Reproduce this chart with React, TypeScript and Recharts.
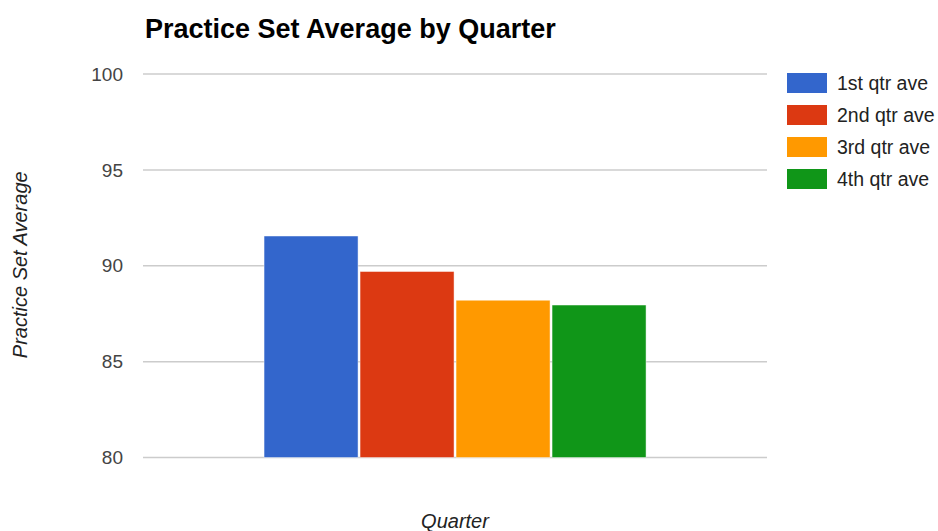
import React from 'react';
import { BarChart, Bar, XAxis, YAxis, CartesianGrid } from 'recharts';

const seriesNames = ['1st qtr ave', '2nd qtr ave', '3rd qtr ave', '4th qtr ave'];
const seriesKeys = ['q1', 'q2', 'q3', 'q4'];
const seriesValues = [91.55, 89.7, 88.2, 87.95];
const seriesColors = ['#3366cc', '#dc3912', '#ff9900', '#109618'];
const yTicks = [80, 85, 90, 95, 100];

const FONT = 'Arial, "Liberation Sans", Helvetica, sans-serif';

// one category row holding all four quarter averages
const chartData = [
  seriesKeys.reduce(
    (row, key, i) => ({ ...row, [key]: seriesValues[i] }),
    { name: 'Quarter' } as Record<string, any>
  ),
];

export default function App() {
  return (
    <div style={{ position: 'absolute', left: 0, top: 0, width: 938, height: 531, background: '#fff' }}>
      <BarChart
        width={938}
        height={531}
        data={chartData}
        margin={{ top: 74, right: 171, left: 0, bottom: 0 }}
        barGap={2}
        barCategoryGap="19.4%"
        style={{ fontFamily: FONT }}
      >
        <CartesianGrid vertical={false} stroke="#cccccc" strokeWidth={1.5} />
        <XAxis
          dataKey="name"
          tick={false}
          axisLine={false}
          tickLine={false}
          height={73.5}
          label={{
            content: ({ viewBox }: any) => (
              <text
                x={viewBox.x + viewBox.width / 2}
                y={viewBox.y + 70}
                textAnchor="middle"
                fontStyle="italic"
                fontSize={20}
                fill="#222"
                fontFamily={FONT}
              >
                Quarter
              </text>
            ),
          }}
        />
        <YAxis
          domain={[80, 100]}
          ticks={yTicks}
          width={143}
          axisLine={false}
          tickLine={false}
          tickSize={0}
          tickMargin={20}
          tick={{ fill: '#444', fontSize: 19, fontFamily: FONT }}
          label={{
            content: ({ viewBox }: any) => {
              const cx = 27;
              const cy = viewBox.y + viewBox.height / 2 - 1;
              return (
                <text
                  x={cx}
                  y={cy}
                  transform={`rotate(-90 ${cx} ${cy})`}
                  textAnchor="middle"
                  fontStyle="italic"
                  fontSize={20}
                  fill="#222"
                  fontFamily={FONT}
                >
                  Practice Set Average
                </text>
              );
            },
          }}
        />
        {seriesKeys.map((key, i) => (
          <Bar
            key={key}
            dataKey={key}
            name={seriesNames[i]}
            fill={seriesColors[i]}
            stroke="#ffffff"
            strokeOpacity={0.45}
            strokeWidth={1}
            isAnimationActive={false}
          />
        ))}
        <text
          x={145}
          y={38}
          fontSize={27}
          fontWeight="bold"
          fill="#000"
          fontFamily={FONT}
        >
          Practice Set Average by Quarter
        </text>
        <g>
          {seriesNames.map((name, i) => (
            <g key={name}>
              <rect x={787} y={73 + i * 32} width={40} height={20} fill={seriesColors[i]} />
              <text x={837} y={90 + i * 32} fontSize={19.5} fill="#222" fontFamily={FONT}>
                {name}
              </text>
            </g>
          ))}
        </g>
      </BarChart>
    </div>
  );
}
